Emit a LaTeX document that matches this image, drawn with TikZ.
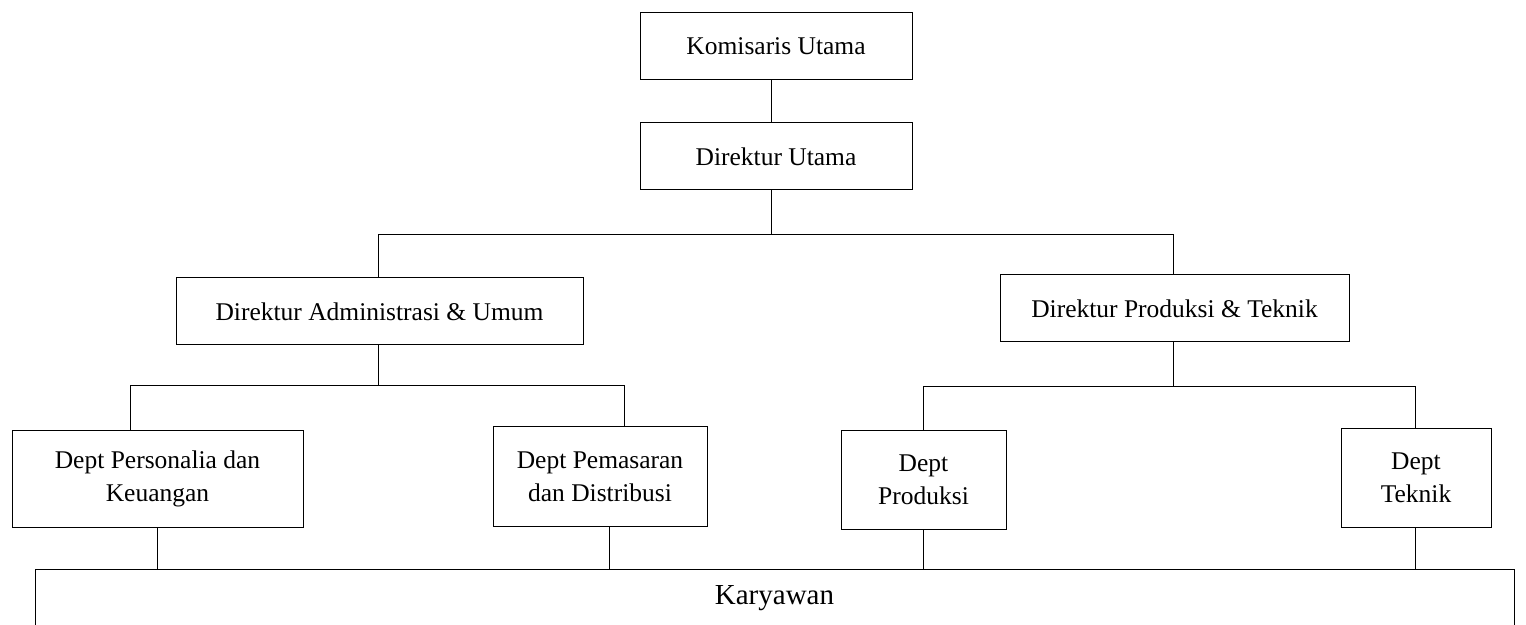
\documentclass[tikz,border=0pt]{standalone}
\usepackage{fontspec}
\setmainfont{Liberation Serif}

\tikzset{
	unit/.style={draw, line width=0.5pt, align=center, inner sep=0pt,
		font=\fontsize{12.75}{16.5}\selectfont},
	link/.style={line width=0.5pt}
}

\begin{document}
\begin{tikzpicture}[x=0.5pt,y=0.5pt,yscale=-1]
	\useasboundingbox (0,0) rectangle (1526,625);

	% Boxes
	\node [unit, minimum width=136pt, minimum height=33.5pt] (kom) at (776,46.5) {Komisaris Utama};
	\node [unit, minimum width=136pt, minimum height=33.5pt] (dirut) at (776,156.5) {Direktur Utama};
	\node [unit, minimum width=203.5pt, minimum height=33.5pt] (diradm) at (379.5,311.5) {Direktur Administrasi \& Umum};
	\node [unit, minimum width=174.5pt, minimum height=33.5pt] (dirprod) at (1174.5,308.5) {Direktur Produksi \& Teknik};
	\node [unit, minimum width=145.5pt, minimum height=48pt] (perso) at (157.5,479) {Dept Personalia dan\\Keuangan};
	\node [unit, minimum width=107pt, minimum height=49.5pt] (pema) at (600,476.5) {Dept Pemasaran\\dan Distribusi};
	\node [unit, minimum width=82.5pt, minimum height=49pt] (prod) at (923.5,480) {Dept\\Produksi};
	\node [unit, minimum width=75pt, minimum height=49pt] (tek) at (1416,478) {Dept\\Teknik};
	\node [unit, minimum width=739.5pt, minimum height=29.5pt, font=\fontsize{14.5}{17}\selectfont] (kary) at (774.5,598.5) {Karyawan};

	% Bars
	\coordinate (bar1) at (771,235);
	\coordinate (bar1w) at (378,235);
	\coordinate (bar1e) at (1173,235);
	\coordinate (bar2m) at (378,386);
	\coordinate (bar2w) at (130,386);
	\coordinate (bar2e) at (624,386);
	\coordinate (bar3m) at (1173,387);
	\coordinate (bar3w) at (923,387);
	\coordinate (bar3e) at (1415,387);

	\draw [link] (kom.south -| bar1) -- (dirut.north -| bar1);
	\draw [link] (dirut.south -| bar1) -- (bar1);
	\draw [link] (diradm.north -| bar1w) -- (bar1w) -- (bar1e) -- (dirprod.north -| bar1e);

	\draw [link] (diradm.south -| bar2m) -- (bar2m);
	\draw [link] (perso.north -| bar2w) -- (bar2w) -- (bar2e) -- (pema.north -| bar2e);

	\draw [link] (dirprod.south -| bar3m) -- (bar3m);
	\draw [link] (prod.north -| bar3w) -- (bar3w) -- (bar3e) -- (tek.north -| bar3e);

	% Drops to Karyawan
	\coordinate (drop1) at (157,569);
	\coordinate (drop2) at (609,569);
	\coordinate (drop3) at (923,569);
	\coordinate (drop4) at (1415,569);
	\foreach \d/\p in {perso/drop1, pema/drop2, prod/drop3, tek/drop4}
		\draw [link] (\d.south -| \p) -- (kary.north -| \p);
\end{tikzpicture}
\end{document}
